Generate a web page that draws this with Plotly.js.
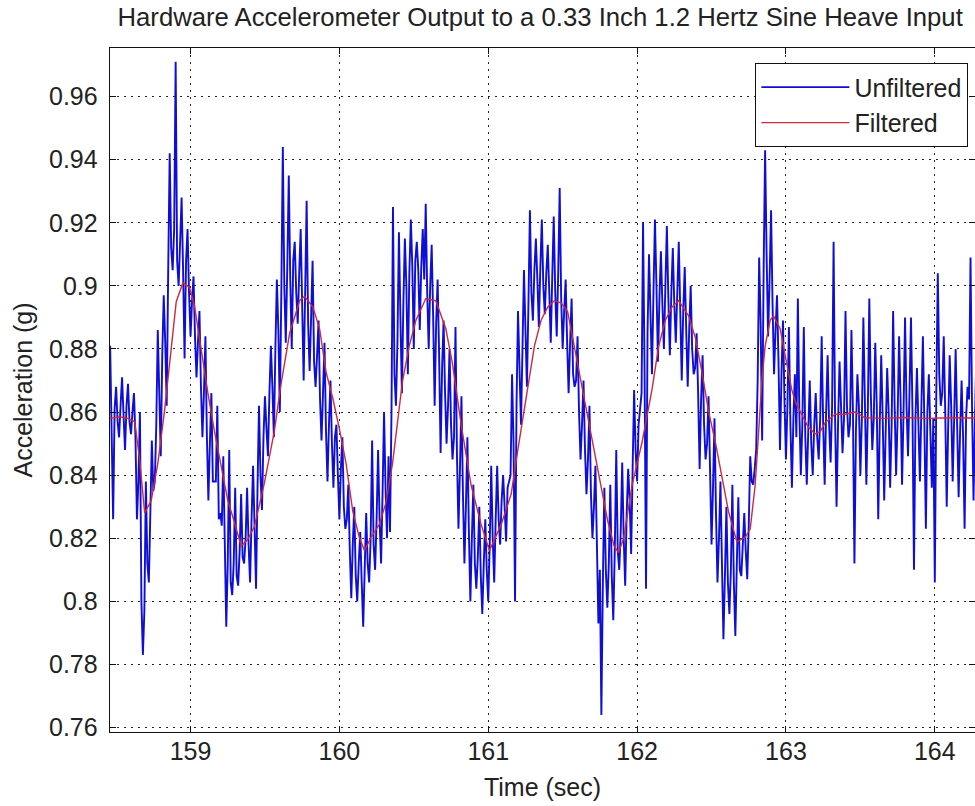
<!DOCTYPE html>
<html>
<head>
<meta charset="utf-8">
<script src="https://cdn.plot.ly/plotly-3.0.1.min.js"></script>
<style>
html,body{margin:0;padding:0;background:#fff;}
#chart{width:975px;height:806px;}
</style>
</head>
<body>
<div id="chart"></div>
<script>
// ---- data ----
var unfilteredStart = 158.46;   // s, first sample time
var unfilteredStep = 0.01;      // s, sample spacing
var unfiltered = [
0.881,0.858,0.826,0.861,0.868,0.857,0.852,0.862,0.871,0.859,
0.848,0.862,0.869,0.857,0.853,0.860,0.866,0.852,0.826,0.838,
0.860,0.800,0.783,0.797,0.838,0.812,0.806,0.828,0.851,0.835,
0.838,0.856,0.886,0.866,0.846,0.878,0.897,0.882,0.862,0.905,
0.942,0.912,0.905,0.918,0.971,0.908,0.900,0.914,0.928,0.905,
0.877,0.908,0.918,0.898,0.884,0.895,0.903,0.884,0.871,0.882,
0.892,0.868,0.852,0.866,0.884,0.852,0.832,0.850,0.866,0.838,
0.838,0.838,0.862,0.826,0.828,0.824,0.846,0.812,0.792,0.812,
0.848,0.806,0.802,0.812,0.836,0.808,0.805,0.816,0.834,0.814,
0.812,0.820,0.836,0.818,0.806,0.826,0.843,0.824,0.804,0.836,
0.862,0.840,0.829,0.852,0.865,0.855,0.846,0.866,0.881,0.868,
0.852,0.880,0.902,0.886,0.860,0.898,0.944,0.900,0.882,0.906,
0.935,0.902,0.880,0.908,0.914,0.898,0.888,0.904,0.918,0.894,
0.870,0.898,0.927,0.888,0.873,0.890,0.908,0.876,0.868,0.878,
0.889,0.864,0.851,0.866,0.882,0.854,0.838,0.856,0.870,0.850,
0.836,0.852,0.856,0.840,0.826,0.842,0.852,0.830,0.823,0.826,
0.837,0.816,0.801,0.818,0.830,0.808,0.800,0.812,0.822,0.806,
0.792,0.810,0.828,0.812,0.806,0.820,0.851,0.818,0.810,0.826,
0.848,0.826,0.812,0.834,0.860,0.836,0.820,0.846,0.822,0.860,
0.925,0.872,0.862,0.882,0.917,0.890,0.866,0.895,0.915,0.900,
0.872,0.904,0.921,0.906,0.880,0.908,0.914,0.905,0.886,0.906,
0.918,0.902,0.926,0.898,0.880,0.900,0.913,0.890,0.862,0.888,
0.902,0.878,0.847,0.874,0.889,0.866,0.850,0.862,0.880,0.856,
0.845,0.852,0.887,0.846,0.823,0.842,0.865,0.834,0.812,0.830,
0.852,0.822,0.800,0.820,0.837,0.812,0.804,0.814,0.830,0.808,
0.796,0.812,0.826,0.810,0.800,0.818,0.843,0.820,0.806,0.826,
0.843,0.826,0.818,0.832,0.840,0.830,0.819,0.836,0.838,0.840,
0.872,0.850,0.800,0.862,0.892,0.868,0.856,0.880,0.905,0.886,
0.868,0.894,0.924,0.898,0.889,0.905,0.915,0.902,0.887,0.906,
0.921,0.900,0.891,0.904,0.913,0.898,0.882,0.903,0.922,0.898,
0.884,0.904,0.931,0.896,0.880,0.892,0.902,0.882,0.866,0.882,
0.896,0.872,0.868,0.870,0.884,0.860,0.845,0.856,0.870,0.848,
0.834,0.845,0.862,0.834,0.820,0.830,0.843,0.818,0.793,0.810,
0.764,0.806,0.836,0.810,0.798,0.812,0.837,0.808,0.794,0.816,
0.848,0.816,0.810,0.822,0.844,0.820,0.805,0.828,0.842,0.832,
0.815,0.842,0.867,0.848,0.838,0.856,0.862,0.866,0.920,0.874,
0.804,0.885,0.910,0.892,0.872,0.898,0.921,0.900,0.876,0.896,
0.911,0.894,0.880,0.900,0.919,0.896,0.878,0.898,0.912,0.894,
0.882,0.898,0.914,0.892,0.870,0.892,0.906,0.886,0.868,0.886,
0.900,0.880,0.872,0.874,0.885,0.866,0.842,0.864,0.878,0.856,
0.845,0.850,0.865,0.842,0.818,0.836,0.858,0.828,0.806,0.820,
0.838,0.812,0.788,0.808,0.830,0.806,0.796,0.810,0.837,0.806,
0.789,0.812,0.833,0.810,0.808,0.818,0.828,0.816,0.807,0.824,
0.846,0.838,0.837,0.842,0.848,0.870,0.909,0.888,0.851,0.905,
0.943,0.910,0.884,0.902,0.924,0.894,0.872,0.886,0.897,0.876,
0.848,0.872,0.889,0.864,0.845,0.862,0.887,0.856,0.836,0.858,
0.872,0.852,0.896,0.860,0.840,0.856,0.887,0.852,0.837,0.854,
0.870,0.850,0.840,0.856,0.866,0.852,0.845,0.858,0.884,0.856,
0.837,0.860,0.878,0.856,0.844,0.862,0.914,0.858,0.830,0.856,
0.876,0.862,0.847,0.858,0.892,0.862,0.852,0.856,0.886,0.860,
0.812,0.854,0.872,0.862,0.840,0.858,0.890,0.864,0.837,0.860,
0.896,0.866,0.848,0.858,0.882,0.862,0.826,0.856,0.878,0.858,
0.832,0.854,0.874,0.860,0.836,0.856,0.892,0.862,0.840,0.858,
0.884,0.864,0.837,0.860,0.890,0.862,0.846,0.866,0.890,0.860,
0.810,0.858,0.874,0.856,0.838,0.862,0.884,0.856,0.823,0.860,
0.872,0.854,0.836,0.858,0.806,0.866,0.904,0.872,0.862,0.866,
0.884,0.860,0.830,0.856,0.878,0.862,0.838,0.858,0.880,0.856,
0.833,0.854,0.870,0.852,0.823,0.858,0.868,0.864,0.909,0.862,
0.832,0.858,0.880
];

var filteredTime = [
158.459,158.52,158.58,158.625,158.658,158.692,158.736,158.781,158.826,158.87,
158.904,158.949,158.993,159.027,159.071,159.116,159.161,159.206,159.25,159.295,
159.34,159.384,159.429,159.496,159.563,159.605,159.666,159.733,159.766,159.822,
159.867,159.911,159.956,160.0,160.045,160.09,160.134,160.168,160.213,160.268,
160.313,160.357,160.391,160.424,160.469,160.514,160.581,160.648,160.715,160.76,
160.818,160.885,160.952,161.008,161.087,161.154,161.198,161.265,161.31,161.355,
161.4,161.444,161.489,161.533,161.578,161.623,161.667,161.712,161.757,161.801,
161.846,161.875,161.91,161.966,162.034,162.1,162.145,162.19,162.235,162.279,
162.346,162.391,162.436,162.48,162.525,162.57,162.614,162.67,162.726,162.76,
162.793,162.816,162.838,162.86,162.894,162.916,162.961,162.994,163.039,163.065,
163.106,163.151,163.196,163.229,163.263,163.33,163.397,163.464,163.531,163.65,
163.8,163.95,164.1,164.28
];
var filtered = [
0.858,0.8585,0.858,0.857,0.845,0.828,0.832,0.844,0.8607,0.8812,
0.895,0.901,0.8995,0.8936,0.8798,0.8662,0.8538,0.8428,0.832,0.8251,
0.8175,0.8196,0.8237,0.8375,0.854,0.868,0.885,0.8953,0.8967,0.8933,
0.8864,0.8726,0.8643,0.8547,0.8437,0.8285,0.8203,0.8161,0.8203,0.8244,
0.8313,0.8437,0.8574,0.8698,0.8809,0.8891,0.896,0.8953,0.8864,0.8753,
0.856,0.8368,0.8244,0.8161,0.8244,0.834,0.8478,0.8671,0.8809,0.8891,
0.8933,0.8953,0.8946,0.8919,0.8809,0.8698,0.8588,0.8478,0.8368,0.8258,
0.8175,0.8155,0.8200,0.8368,0.8506,0.8671,0.8809,0.8891,0.8933,0.8953,
0.8905,0.8836,0.8726,0.8602,0.8506,0.8395,0.8285,0.8189,0.8203,0.823,
0.8368,0.8534,0.8698,0.8809,0.8891,0.8905,0.8864,0.8781,0.8671,0.8630,
0.8593,0.8552,0.8531,0.8538,0.8566,0.8593,0.8593,0.8600,0.8582,0.8580,
0.8583,0.8580,0.8582,0.8581
];

var xTickVals = [159,160,161,162,163,164];
var xTickText = ['159','160','161','162','163','164'];
var yTickVals = [0.76,0.78,0.8,0.82,0.84,0.86,0.88,0.9,0.92,0.94,0.96];
var yTickText = ['0.76','0.78','0.8','0.82','0.84','0.86','0.88','0.9','0.92','0.94','0.96'];

var seriesNames = ['Unfiltered','Filtered'];
var titleText = 'Hardware Accelerometer Output to a 0.33 Inch 1.2 Hertz Sine Heave Input';
var xTitle = 'Time (sec)';
var yTitle = 'Acceleration (g)';

// ---- chart ----
var FONT = 'Liberation Sans, Arial, Helvetica, sans-serif';
var FS = 25;
var traces = [
  {type:'scatter', mode:'lines', name:seriesNames[0],
   x0:unfilteredStart, dx:unfilteredStep, y:unfiltered,
   line:{color:'#0e0ed8', width:1.9}},
  {type:'scatter', mode:'lines', name:seriesNames[1],
   x:filteredTime, y:filtered,
   line:{color:'#d0283c', width:1.4}}
];

var axisCommon = {
  showline:true, linecolor:'#111', linewidth:1.3, mirror:'ticks',
  ticks:'inside', ticklen:6, tickwidth:1, tickcolor:'#111',
  showgrid:true, gridcolor:'#222', gridwidth:1, griddash:'2px,5px',
  zeroline:false, tickmode:'array',
  tickfont:{family:FONT, size:FS, color:'#222'}
};

var layout = {
  width:975, height:806,
  margin:{l:110, r:0, t:48, b:74},
  paper_bgcolor:'#fff', plot_bgcolor:'#fff',
  font:{family:FONT, color:'#222'},
  showlegend:true,
  title:{text:titleText, font:{family:FONT, size:25.7, color:'#222'},
         x:0.554, xanchor:'center', y:0.979, yanchor:'middle'},
  xaxis:Object.assign({}, axisCommon, {
    range:[158.459, 164.27], tickvals:xTickVals, ticktext:xTickText,
    ticklabelstandoff:-3,
    title:{text:xTitle, font:{family:FONT, size:FS, color:'#222'}, standoff:14}
  }),
  yaxis:Object.assign({}, axisCommon, {
    range:[0.7586, 0.9754], tickvals:yTickVals, ticktext:yTickText,
    ticklabelstandoff:6,
    title:{text:yTitle, font:{family:FONT, size:FS, color:'#222'}, standoff:9}
  }),
  legend:{x:0.992, xanchor:'right', y:0.978, yanchor:'top',
    bgcolor:'#fff', bordercolor:'#111', borderwidth:1.3,
    font:{family:FONT, size:FS, color:'#222'},
    itemwidth:88}
};

Plotly.newPlot('chart', traces, layout, {staticPlot:true, displayModeBar:false});
</script>
</body>
</html>
